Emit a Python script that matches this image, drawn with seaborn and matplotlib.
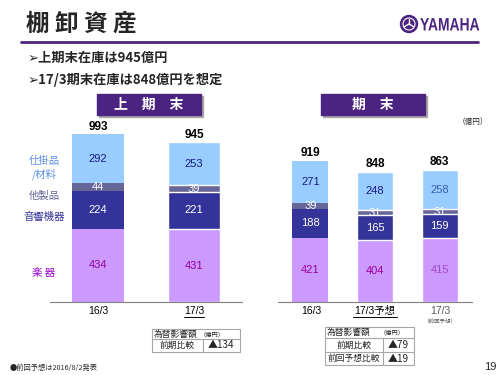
import seaborn as sns
import matplotlib.pyplot as plt
import matplotlib.patches as mpatches
import matplotlib.lines as mlines
from matplotlib.textpath import TextPath
from matplotlib.font_manager import FontProperties
from matplotlib.transforms import Affine2D
import numpy as np

# データ（億円）
half_periods = ['16/3', '17/3']
half_gakki = [434, 431]
half_onkyo = [224, 221]
half_other = [44, 39]
half_shikake = [292, 253]
half_totals = [993, 945]

year_periods = ['16/3', '17/3予想', '17/3']
year_gakki = [421, 404, 415]
year_onkyo = [188, 165, 159]
year_other = [39, 31, 31]
year_shikake = [271, 248, 258]
year_totals = [919, 848, 863]

seg_names = ['楽 器', '音響機器', '他製品', '仕掛品\n/材料']
seg_colors = ['#CC99FF', '#333399', '#666699', '#99CCFF']
txt_colors = ['#990099', 'white', 'white', '#1A1A80']
name_colors = ['#9900CC', '#333399', '#666699', '#5B8FE8']

sns.set_style('white')
plt.rcParams['font.family'] = ['Noto Sans CJK JP', 'DejaVu Sans']

PURPLE = '#4B2380'
W, H = 500, 375


def px(x, y):
    return x / W, 1 - y / H


fig = plt.figure(figsize=(5, 3.75), dpi=100)
fig.patch.set_facecolor('white')


def stacked(ax, periods, segs, totals, width, scale_top, edge_from):
    # 累積値を上から重ねて描く
    cum = np.cumsum(np.array(segs), axis=0)
    for i in range(len(segs) - 1, -1, -1):
        sns.barplot(x=periods, y=cum[i], color=seg_colors[i], width=width,
                    saturation=1, errorbar=None, ax=ax, zorder=2)
    for j, p in enumerate(ax.patches):
        k = j % len(periods)
        if k >= edge_from:
            p.set_edgecolor('white')
            p.set_linewidth(1.0)
        else:
            p.set_linewidth(0)
    for k in range(len(periods)):
        bottom = 0
        for i, seg in enumerate(segs):
            v = seg[k]
            c = txt_colors[i]
            if k == 2 and i in (0, 3):
                c = '#A04CC8' if i == 0 else '#3A5FB0'
            ax.text(k, bottom + v / 2, str(v), ha='center', va='center',
                    fontsize=8, color=c, family=['Liberation Sans', 'DejaVu Sans'])
            bottom += v
        ax.text(k, cum[-1][k] + scale_top, str(totals[k]), ha='center', va='bottom',
                fontsize=8.5, fontweight='bold', color='black',
                family=['Liberation Sans', 'DejaVu Sans'])
    ax.set_xlim(-0.5, len(periods) - 0.5)
    for s in ['top', 'left', 'right']:
        ax.spines[s].set_visible(False)
    ax.spines['bottom'].set_color('#7F7F7F')
    ax.set_xticks(range(len(periods)))
    ax.set_xticklabels([])
    ax.tick_params(axis='x', which='major', length=0)
    ax.set_xticks(np.arange(-0.5, len(periods), 1.0), minor=True)
    ax.tick_params(axis='x', which='minor', direction='in', length=3, color='#7F7F7F')
    ax.set_yticks([])
    ax.set_xlabel('')
    ax.set_ylabel('')
    ax.patch.set_alpha(0)


# 上期末
ax1 = fig.add_axes([50 / W, 73 / H, 192 / W, 182 / H])
ax1.set_ylim(0, 1077)
stacked(ax1, half_periods, [half_gakki, half_onkyo, half_other, half_shikake],
        half_totals, 0.55, 8, 1)

# 期末
ax2 = fig.add_axes([278 / W, 73 / H, 194 / W, 182 / H])
ax2.set_ylim(0, 1189)
stacked(ax2, year_periods, [year_gakki, year_onkyo, year_other, year_shikake],
        year_totals, 0.56, 12, 1)

# タイトル
fig.text(*px(26, 24), '棚 卸 資 産', fontsize=17, fontweight='bold', va='center')
fig.add_artist(mlines.Line2D([21 / W, 478 / W], [1 - 42 / H] * 2, color=PURPLE, lw=2))
fig.text(*px(28, 58), '➢上期末在庫は945億円', fontsize=9.5, fontweight='bold', va='center')
fig.text(*px(28, 80), '➢17/3期末在庫は848億円を想定', fontsize=9.5, fontweight='bold', va='center')

# YAMAHA ロゴ
cx, cy = px(409, 24)
fig.add_artist(mpatches.Ellipse((cx, cy), 17 / W, 17 / H, color=PURPLE))
fig.add_artist(mpatches.Ellipse((cx, cy), 12 / W, 12 / H, fill=False, ec='white', lw=0.8))
for ang in [90, 210, 330]:
    a = np.deg2rad(ang)
    fig.add_artist(mlines.Line2D([cx, cx + np.cos(a) * 5 / W], [cy, cy + np.sin(a) * 5 / H],
                                 color='white', lw=1))
logo = TextPath((0, 0), 'YAMAHA', size=1,
                prop=FontProperties(family=['Liberation Sans', 'DejaVu Sans'], weight='bold'))
lw_ = logo.get_extents().width
fig.add_artist(mpatches.PathPatch(
    logo, color=PURPLE, lw=0,
    transform=Affine2D().scale(59 / lw_, 13 / 0.72).translate(420, H - 30.5)))

# 見出しボックス
for x0, x1, label in [(97, 201, '上　期　末'), (321, 425, '期　末')]:
    fig.add_artist(mpatches.Rectangle(px(x0 + 2, 117), (x1 - x0) / W, 21 / H, color='#A9A9A9'))
    fig.add_artist(mpatches.Rectangle(px(x0, 115), (x1 - x0) / W, 21 / H, color=PURPLE))
    fig.text(*px((x0 + x1) / 2, 105), label, fontsize=10, fontweight='bold', color='white',
             ha='center', va='center')

fig.text(*px(473, 122), '（億円）', fontsize=5.5, ha='center', va='center')

# 凡例ラベル（左側）
for (y, name, c) in [(273, seg_names[0], name_colors[0]), (217, seg_names[1], name_colors[1]),
                     (196, seg_names[2], name_colors[2]), (168, seg_names[3], name_colors[3])]:
    fig.text(*px(44, y), name, fontsize=7.5, color=c, ha='center', va='center', linespacing=1.2)


# 横軸ラベル
def xlabel(x, y, s, color='black', under=False, size=7.5, weight='normal'):
    fig.text(*px(x, y), s, fontsize=size, color=color, ha='center', va='center',
             fontweight=weight, family=['Liberation Sans', 'Noto Sans CJK JP'])
    if under:
        wpx = len(s) * 5 if s.isascii() else 44
        fig.add_artist(mlines.Line2D([(x - wpx / 2) / W, (x + wpx / 2) / W], [1 - (y + 6) / H] * 2,
                                     color=color, lw=0.7))


xlabel(98, 311, half_periods[0])
xlabel(194, 311, half_periods[1], under=True)
xlabel(311, 311, year_periods[0])
xlabel(375, 311, year_periods[1], under=True)
xlabel(440, 311, year_periods[2], color='#595959')
fig.text(*px(440, 321), '（前回予想）', fontsize=4, color='#595959', ha='center', va='center')


# 為替影響額の表
def table(x0, x1, xd, ys, rows):
    gray = '#A6A6A6'
    fig.add_artist(mpatches.Rectangle(px(x0, ys[-1]), (x1 - x0) / W, (ys[-1] - ys[0]) / H,
                                      fill=False, ec=gray, lw=0.8))
    for y in ys[1:-1]:
        fig.add_artist(mlines.Line2D([x0 / W, x1 / W], [1 - y / H] * 2, color=gray, lw=0.8))
    fig.add_artist(mlines.Line2D([xd / W] * 2, [1 - ys[1] / H, 1 - ys[-1] / H], color=gray, lw=0.8))
    fig.text(*px(x0 + 24, (ys[0] + ys[1]) / 2), '為替影響額', fontsize=6.3, ha='center', va='center')
    fig.text(*px(xd + 9, (ys[0] + ys[1]) / 2), '（億円）', fontsize=4.5, ha='center', va='center')
    for i, (name, val) in enumerate(rows):
        yc = (ys[i + 1] + ys[i + 2]) / 2
        fig.text(*px((x0 + xd) / 2, yc), name, fontsize=6.3, ha='center', va='center')
        fig.text(*px((xd + x1) / 2, yc), val, fontsize=7.2, ha='center', va='center')


table(152, 240, 203, [329, 339, 352], [('前期比較', '▲134')])
table(325, 414, 383, [327, 338, 352, 365], [('前期比較', '▲79'), ('前回予想比較', '▲19')])

fig.text(*px(10, 368), '●前回予想は2016/8/2発表', fontsize=5.2, va='center')
fig.text(*px(490, 367), '19', fontsize=8, ha='center', va='center',
         family=['Liberation Sans', 'DejaVu Sans'])

fig.savefig('out.png', dpi=100)
